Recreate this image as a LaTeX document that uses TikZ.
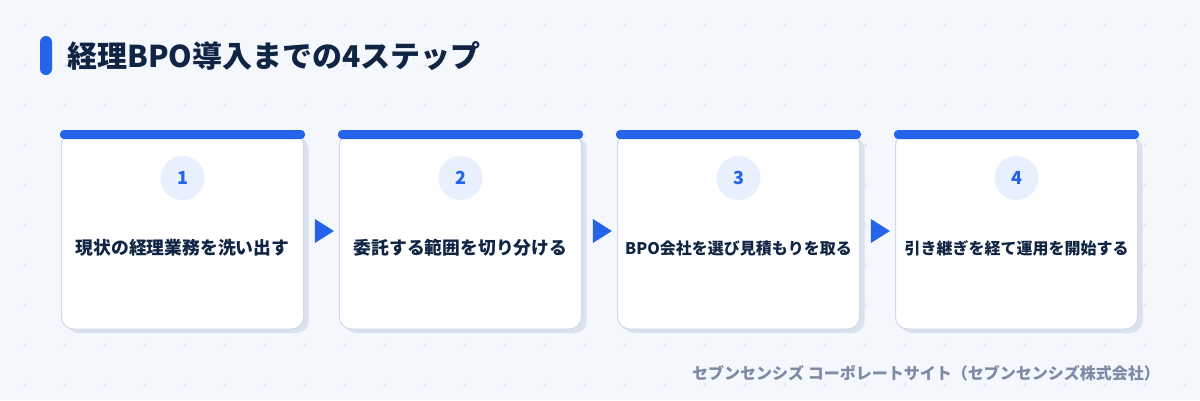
\documentclass[tikz,border=0pt]{standalone}
\usepackage{fontspec}
\setmainfont{Noto Sans CJK JP}
\usepackage{tikz}
\usetikzlibrary{shapes.geometric, positioning, shadows}
\definecolor{bgcolor}{RGB}{244, 247, 252}
\definecolor{gridcolor}{RGB}{220, 227, 238}
\definecolor{primary}{RGB}{37, 99, 235}
\definecolor{navy}{RGB}{16, 36, 68}
\definecolor{cardline}{RGB}{208, 218, 232}
\definecolor{shadowcolor}{RGB}{218, 226, 239}
\definecolor{circlecolor}{RGB}{232, 240, 253}
\definecolor{footgray}{RGB}{125, 139, 165}

\begin{document}
\begin{tikzpicture}[
    x=1pt, y=-1pt,
    card/.style={draw=cardline, line width=1pt, fill=white, rounded corners=12pt, minimum width=242pt, minimum height=196pt,
        drop shadow={shadow xshift=5pt, shadow yshift=-4pt, fill=shadowcolor, opacity=1}},
    topbar/.style={fill=primary, rounded corners=4pt, minimum width=245pt, minimum height=9pt, inner sep=0pt},
    stepnum/.style={circle, fill=circlecolor, minimum size=44pt, inner sep=0pt, text=primary, font=\fontsize{18}{20}\selectfont\bfseries},
    steptext/.style={text=navy, font=\fontsize{17.8}{20}\selectfont\bfseries},
    flow/.style={isosceles triangle, isosceles triangle stretches, fill=primary, minimum width=24pt, minimum height=19pt, inner sep=0pt}
]
    % Background
    \fill[bgcolor] (0,0) rectangle (1200,400);
    \useasboundingbox (0,0) rectangle (1200,400);
    \foreach \x in {25,65,...,1185}
        \foreach \y in {25,65,...,385}
            \draw[gridcolor, line width=0.7pt] (\x-2,\y) -- (\x+2,\y) (\x,\y-2) -- (\x,\y+2);

    % Title
    \node[fill=primary, rounded corners=6pt, minimum width=12pt, minimum height=39pt, inner sep=0pt] (titlebar) at (46, 55.5) {};
    \node[anchor=west, text=navy, font=\fontsize{30}{32}\selectfont\bfseries, inner sep=0pt] (title) at (67, 56) {経理BPO導入までの4ステップ};

    % Steps
    \node[card] (step1) at (182.5, 231) {};
    \node[topbar] (bar1) at (182.5, 134.5) {};
    \node[stepnum] (num1) at (182.5, 178) {1};
    \node[steptext] (text1) at (182.5, 248) {現状の経理業務を洗い出す};

    \node[card] (step2) at (460.5, 231) {};
    \node[topbar] (bar2) at (460.5, 134.5) {};
    \node[stepnum] (num2) at (460.5, 178) {2};
    \node[steptext] (text2) at (460.5, 248) {委託する範囲を切り分ける};

    \node[card] (step3) at (738.5, 231) {};
    \node[topbar] (bar3) at (738.5, 134.5) {};
    \node[stepnum] (num3) at (738.5, 178) {3};
    \node[steptext, font=\fontsize{16}{20}\selectfont\bfseries] (text3) at (738.5, 248) {BPO会社を選び見積もりを取る};

    \node[card] (step4) at (1016.5, 231) {};
    \node[topbar] (bar4) at (1016.5, 134.5) {};
    \node[stepnum] (num4) at (1016.5, 178) {4};
    \node[steptext, font=\fontsize{16}{20}\selectfont\bfseries] (text4) at (1016.5, 248) {引き継ぎを経て運用を開始する};

    % Flow
    \path (step1) -- (step2) node[midway, flow] (arrow1) {};
    \path (step2) -- (step3) node[midway, flow] (arrow2) {};
    \path (step3) -- (step4) node[midway, flow] (arrow3) {};

    % Footer
    \node[anchor=west, text=footgray, font=\fontsize{16}{18}\selectfont\bfseries, inner sep=0pt] (footer) at (692, 373) {セブンセンシズ コーポレートサイト（セブンセンシズ株式会社）};
\end{tikzpicture}
\end{document}
